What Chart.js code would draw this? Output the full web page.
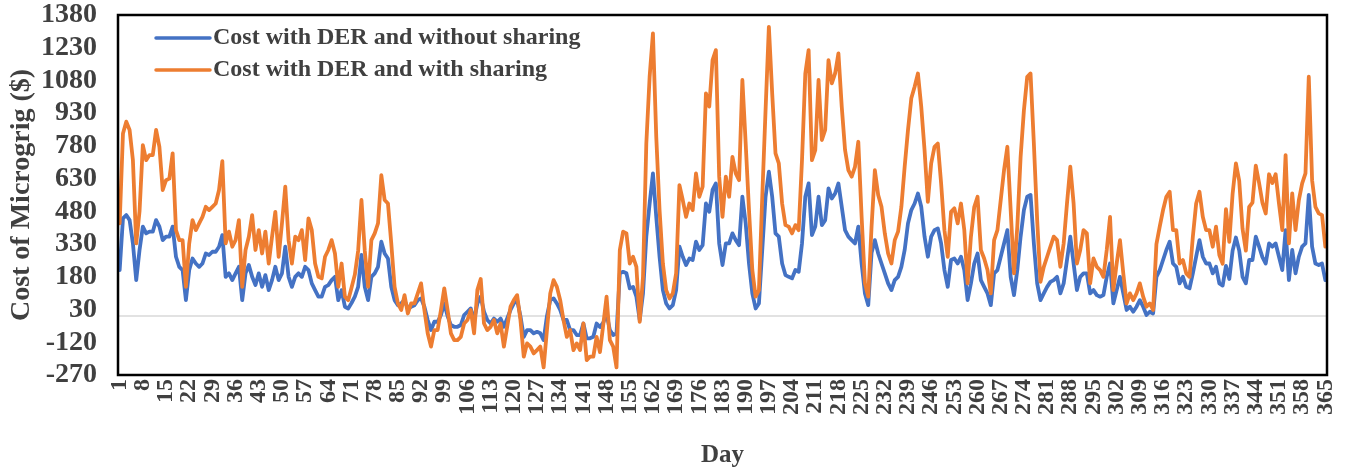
<!DOCTYPE html>
<html>
<head>
<meta charset="utf-8">
<script src="https://cdn.jsdelivr.net/npm/chart.js@4.4.1/dist/chart.umd.min.js"></script>
<style>
  html, body { margin: 0; padding: 0; background: #fff; }
  #wrap { width: 1348px; height: 469px; position: relative; }
</style>
</head>
<body>
<div id="wrap"><canvas id="chart"></canvas></div>
<script>
// days of the year (categories)
const days = [];
for (let d = 1; d <= 365; d++) days.push(d);

const yTicks = [-270, -120, 30, 180, 330, 480, 630, 780, 930, 1080, 1230, 1380];

const seriesLabels = ['Cost with DER and without sharing', 'Cost with DER and with sharing'];
const seriesColors = ['#4472C4', '#ED7D31'];

// one value per day
const withoutSharing = [
  211, 448, 463, 440, 333, 165, 303, 410, 379, 387,
  387, 440, 410, 348, 364, 364, 410, 272, 226, 211,
  73, 211, 264, 241, 226, 241, 287, 280, 295, 295,
  318, 371, 180, 196, 165, 196, 226, 73, 196, 234,
  180, 142, 196, 134, 188, 119, 165, 226, 165, 196,
  318, 180, 134, 180, 196, 180, 226, 211, 150, 119,
  89, 89, 134, 142, 165, 180, 73, 119, 43, 35,
  60, 89, 134, 280, 134, 73, 180, 196, 226, 341,
  287, 264, 134, 73, 50, 58, 73, 35, 43, 50,
  73, 81, 43, -18, -64, -26, -26, 5, 58, 0,
  -41, -49, -49, -41, 5, 20, 35, -18, 58, 89,
  20, -18, -34, -11, -26, -11, -49, -11, 28, 58,
  73, 0, -95, -64, -64, -79, -72, -79, -110, 0,
  73, 81, 58, 28, -18, -18, -64, -64, -87, -87,
  -34, -102, -102, -95, -34, -50, -30, 10, -64, -87,
  -80, 196, 203, 196, 127, 134, 89, -18, 104, 364,
  516, 654, 455, 272, 119, 58, 35, 50, 119, 318,
  272, 234, 264, 257, 341, 303, 325, 516, 478, 578,
  608, 333, 234, 333, 333, 379, 348, 325, 547, 425,
  241, 104, 35, 58, 303, 547, 662, 547, 379, 364,
  241, 188, 180, 173, 211, 203, 333, 547, 608, 371,
  410, 547, 417, 440, 585, 539, 562, 608, 501, 394,
  364, 348, 333, 410, 241, 104, 50, 290, 348, 287,
  241, 196, 150, 119, 165, 180, 226, 303, 425, 486,
  516, 562, 501, 364, 272, 364, 394, 402, 333, 211,
  134, 257, 264, 241, 272, 211, 73, 150, 241, 287,
  165, 134, 104, 50, 196, 211, 272, 333, 394, 180,
  96, 211, 364, 486, 547, 555, 333, 150, 73, 104,
  134, 157, 165, 180, 104, 150, 257, 364, 241, 119,
  180, 196, 196, 104, 119, 96, 89, 96, 180, 241,
  58, 119, 180, 104, 28, 43, 20, 43, 73, 43,
  5, 20, 12, 180, 211, 257, 303, 341, 241, 226,
  150, 180, 134, 127, 196, 272, 348, 272, 241, 241,
  196, 226, 150, 140, 230, 170, 300, 360, 300, 180,
  150, 257, 257, 364, 318, 270, 241, 333, 318, 333,
  272, 211, 394, 165, 303, 196, 272, 318, 333, 555,
  318, 241, 234, 241, 165
];

const withSharing = [
  425, 837, 891, 853, 715, 333, 480, 784, 715, 738,
  738, 853, 776, 578, 623, 630, 746, 394, 348, 348,
  134, 333, 440, 394, 425, 455, 501, 486, 501, 516,
  578, 710, 333, 387, 318, 348, 440, 134, 303, 364,
  463, 303, 394, 287, 387, 241, 364, 478, 272, 425,
  593, 348, 241, 364, 348, 394, 257, 448, 394, 241,
  180, 173, 272, 303, 348, 287, 134, 241, 89, 73,
  130, 190, 300, 532, 300, 134, 348, 379, 425, 646,
  532, 516, 333, 134, 58, 28, 96, 12, 58, 58,
  104, 150, 28, -79, -140, -64, -64, 28, 127, 28,
  -79, -110, -110, -95, -34, -18, 28, -79, 120, 170,
  -34, -64, -49, -18, -79, -34, -140, -49, 43, 73,
  96, -18, -186, -125, -140, -171, -156, -140, -235, -64,
  104, 165, 134, 73, -18, -95, -64, -156, -125, -156,
  -34, -202, -186, -186, -95, -165, -40, 89, -110, -140,
  -235, 303, 387, 379, 241, 272, 226, -26, 180, 791,
  1097, 1296, 822, 486, 241, 119, 81, 104, 196, 600,
  532, 455, 516, 486, 654, 547, 593, 1021, 960, 1173,
  1219, 639, 455, 639, 547, 730, 654, 623, 1082, 791,
  486, 211, 89, 119, 547, 944, 1326, 1021, 746, 700,
  516, 417, 410, 379, 417, 394, 715, 1112, 1219, 715,
  761, 1082, 807, 853, 1173, 1067, 1112, 1204, 960, 761,
  669, 639, 684, 799, 455, 150, 89, 410, 669, 555,
  501, 379, 287, 241, 348, 387, 501, 685, 853, 998,
  1051, 1112, 960, 761, 524, 700, 776, 791, 608, 394,
  272, 478, 494, 425, 516, 394, 150, 364, 500, 547,
  303, 264, 211, 104, 348, 394, 532, 669, 776, 486,
  196, 410, 730, 944, 1097, 1112, 791, 440, 157, 226,
  272, 318, 364, 348, 226, 333, 516, 685, 516, 241,
  303, 394, 379, 150, 264, 226, 211, 180, 303, 455,
  119, 241, 348, 196, 58, 104, 73, 104, 150, 89,
  43, 58, 28, 330, 410, 486, 547, 570, 394, 394,
  241, 257, 196, 180, 364, 516, 570, 455, 394, 394,
  318, 410, 280, 240, 490, 340, 560, 700, 620, 400,
  300, 500, 520, 690, 610, 520, 470, 650, 610, 650,
  516, 394, 738, 333, 562, 394, 532, 608, 654, 1097,
  623, 501, 471, 463, 318
];

const FONT = '"Liberation Serif", "Times New Roman", serif';
const TEXT = '#404040';

// zero line, plot frame and the in-plot legend
const framePlugin = {
  id: 'frame',
  beforeDatasetsDraw(chart) {
    const {ctx, chartArea: a, scales: {y}} = chart;
    const y0 = y.getPixelForValue(0);
    ctx.save();
    ctx.strokeStyle = '#d9d9d9';
    ctx.lineWidth = 1.5;
    ctx.beginPath();
    ctx.moveTo(a.left, y0);
    ctx.lineTo(a.right, y0);
    ctx.stroke();
    ctx.restore();
  },
  afterDraw(chart) {
    const {ctx, chartArea: a} = chart;
    ctx.save();
    ctx.strokeStyle = '#000';
    ctx.lineWidth = 2.5;
    ctx.strokeRect(a.left, a.top, a.right - a.left, a.bottom - a.top);
    ctx.font = 'bold 24px ' + FONT;
    ctx.textBaseline = 'middle';
    chart.data.datasets.forEach((ds, i) => {
      const ly = a.top + 23 + i * 32;
      ctx.strokeStyle = ds.borderColor;
      ctx.lineWidth = 3.5;
      ctx.lineCap = 'round';
      ctx.beginPath();
      ctx.moveTo(a.left + 38, ly);
      ctx.lineTo(a.left + 92, ly);
      ctx.stroke();
      ctx.fillStyle = TEXT;
      ctx.fillText(ds.label, a.left + 95, ly);
    });
    ctx.restore();
  }
};

new Chart(document.getElementById('chart'), {
  type: 'line',
  data: {
    labels: days,
    datasets: [
      {
        label: seriesLabels[0],
        data: withoutSharing,
        borderColor: seriesColors[0],
        backgroundColor: seriesColors[0],
        order: 1
      },
      {
        label: seriesLabels[1],
        data: withSharing,
        borderColor: seriesColors[1],
        backgroundColor: seriesColors[1],
        order: 0
      }
    ]
  },
  options: {
    responsive: true,
    maintainAspectRatio: false,
    animation: false,
    layout: { padding: { top: 15, right: 21, left: 0, bottom: 0 } },
    elements: {
      point: { radius: 0, hoverRadius: 0 },
      line: { borderWidth: 3.8, tension: 0, borderJoinStyle: 'round', borderCapStyle: 'round' }
    },
    plugins: {
      legend: { display: false },
      tooltip: { enabled: false }
    },
    scales: {
      x: {
        type: 'category',
        offset: true,
        grid: { display: false, drawTicks: false },
        border: { display: false },
        ticks: {
          autoSkip: false,
          maxRotation: 90,
          minRotation: 90,
          padding: 4,
          color: TEXT,
          font: { family: FONT, size: 24, weight: 'bold' },
          callback: (v, i) => (i % 7 === 0 ? String(days[i]) : '')
        },
        title: {
          display: true,
          text: 'Day',
          color: TEXT,
          font: { family: FONT, size: 25, weight: 'bold', lineHeight: 1 },
          padding: { top: 0, bottom: 1 }
        },
        afterFit: (s) => {
          s.height = 94;
          s.paddingLeft = 0;
          s.paddingRight = 0;
        }
      },
      y: {
        min: -270,
        max: 1380,
        grid: { display: false, drawTicks: false },
        border: { display: false },
        afterBuildTicks: (s) => { s.ticks = yTicks.map(v => ({ value: v })); },
        ticks: {
          autoSkip: false,
          padding: 21,
          color: TEXT,
          font: { family: FONT, size: 28, weight: 'bold' },
          callback: (v) => String(v)
        },
        title: {
          display: true,
          text: 'Cost of Microgrig ($)',
          color: TEXT,
          font: { family: FONT, size: 28, weight: 'bold' },
          padding: { top: 5, bottom: 0 }
        },
        afterFit: (s) => {
          s.width = 118;
          s.paddingTop = 0;
          s.paddingBottom = 0;
        }
      }
    }
  },
  plugins: [framePlugin]
});
</script>
</body>
</html>
